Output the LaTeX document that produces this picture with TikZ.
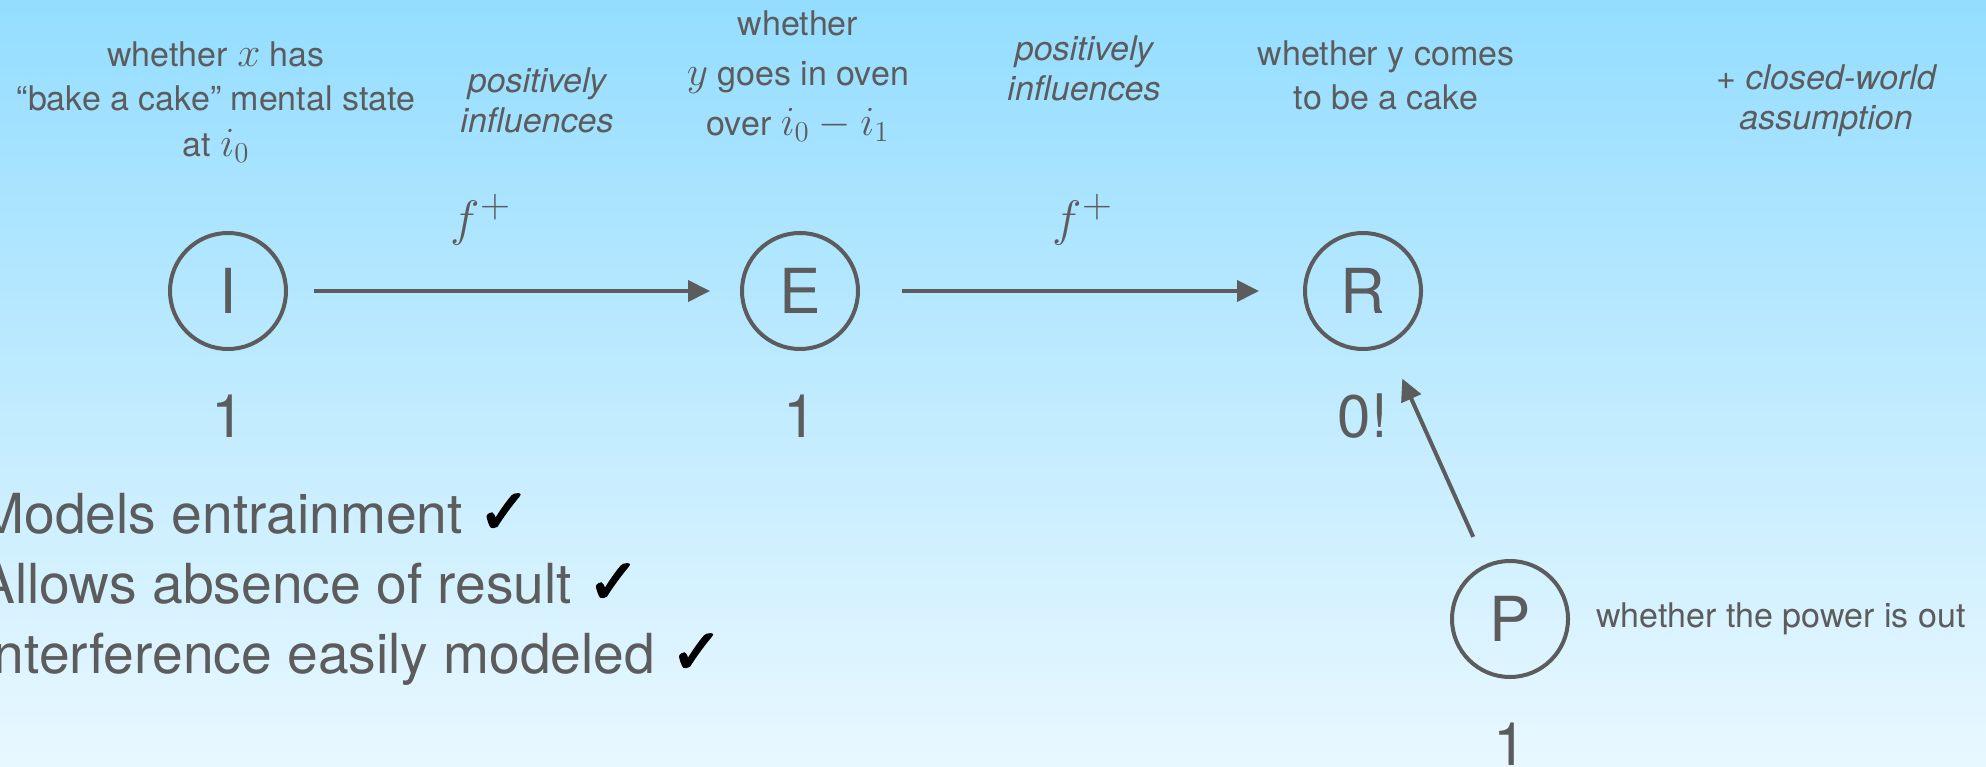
\documentclass[tikz,border=0pt]{standalone}
\usepackage{fontspec}
\setmainfont{TeX Gyre Heros}
\newfontfamily\symfont[FakeBold=3]{DejaVu Sans}
\usepackage{xcolor}
\usetikzlibrary{arrows.meta,positioning}

\definecolor{inkgray}{RGB}{92,92,92}
\definecolor{skytop}{RGB}{148,221,255}
\definecolor{skybottom}{RGB}{233,248,255}

\newcommand{\vmath}[1]{{\fontsize{21}{21}\selectfont$#1$}}
\newcommand{\tick}{{\color{black}\fontsize{31}{31}\selectfont\symfont ✓}}

\begin{document}
\begin{tikzpicture}[x=0.5pt,y=0.5pt,
  varnode/.style={draw=inkgray,circle,line width=2pt,minimum size=58pt,inner sep=0pt,text=inkgray,font=\fontsize{31}{31}\selectfont},
  value/.style={text=inkgray,inner sep=0pt,font=\fontsize{30}{30}\selectfont},
  gloss/.style={text=inkgray,align=center,inner sep=0pt,font=\fontsize{17}{22}\selectfont},
  relation/.style={text=inkgray,align=center,inner sep=0pt,font=\fontsize{17}{20}\selectfont\itshape},
  fun/.style={text=inkgray,inner sep=0pt,font=\fontsize{32}{32}\selectfont},
  arrow/.style={-{Triangle[length=11pt,width=10.5pt]},line width=2pt,draw=inkgray},
  claim/.style={text=inkgray,align=left,inner sep=0pt,font=\fontsize{27.6}{35}\selectfont}
]
\shade[top color=skytop,bottom color=skybottom] (0,0) rectangle (1986,766);
\useasboundingbox (0,0) rectangle (1986,766);

% variables
\node[varnode] (I) at (228,475) {I};
\node[varnode] (E) at (800,475) {E};
\node[varnode] (R) at (1363,475) {R};
\node[varnode] (P) at (1510,147) {P};

% values
\node[value] (vI) at (228,350) {1};
\node[value] (vE) at (800,350) {1};
\node[value] (vR) at (1363,350) {0!};
\node[value] (vP) at (1510,22) {1};

% glosses
\node[gloss] (gI) at (216,664) {whether \vmath{x} has\\“bake a cake” mental state\\[1pt]at \vmath{i_0}};
\node[gloss] (gE) at (798,690) {whether\\[3pt]\vmath{y} goes in oven\\[3pt]over \vmath{i_0 - i_1}};
\node[gloss] (gR) at (1386,691) {whether y comes\\to be a cake};
\node[gloss,anchor=west] (gP) at (1596,147) {whether the power is out};

\node[relation] (rIE) at (537,666) {positively\\influences};
\node[relation] (rER) at (1084,698) {positively\\influences};
\node[relation] (cwa) at (1826,665) {{\upshape +} closed-world\\assumption};

\node[fun] (fIE) at (481,546) {$f^{+}$};
\node[fun] (fER) at (1083,546) {$f^{+}$};

% claims
\node[claim,anchor=west] (claims) at (-22,177) {Models entrainment \tick\\
  Allows absence of result \tick\\
  Interference easily modeled \tick};

\draw[arrow,shorten <=13pt,shorten >=15pt] (I) -- (E);
\draw[arrow,shorten <=21pt,shorten >=22pt] (E) -- (R);
\draw[arrow,shorten <=15pt,shorten >=18pt] (P) -- (R);
\end{tikzpicture}
\end{document}
